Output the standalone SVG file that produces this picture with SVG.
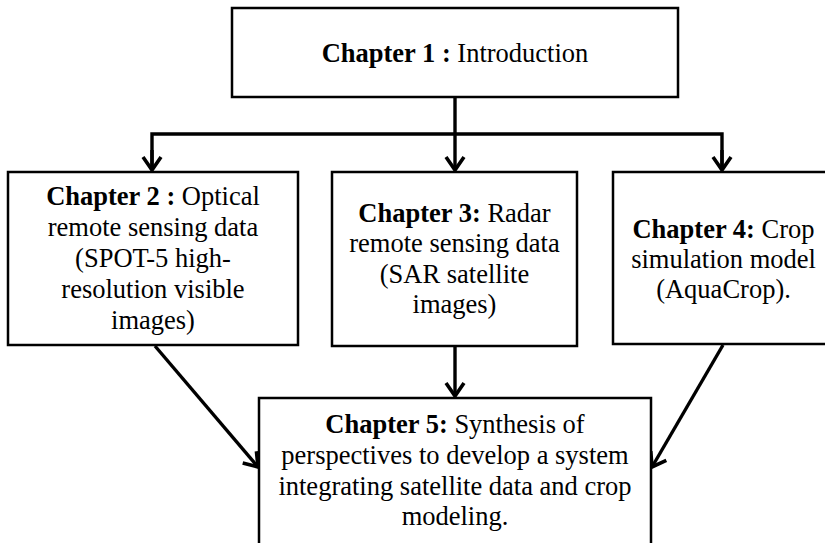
<svg xmlns="http://www.w3.org/2000/svg" width="825" height="543" viewBox="0 0 825 543">
<style>
.box{fill:#fff;stroke:#000;stroke-width:2.5}
.t{font-family:"Liberation Serif","Times New Roman",serif;font-size:26.5px;fill:#000;text-anchor:middle}
.b{font-weight:bold}
.c{fill:none;stroke:#000;stroke-width:3.4}
</style>
<defs>
<marker id="ah" markerUnits="userSpaceOnUse" markerWidth="20" markerHeight="24" viewBox="-15 -12 17 24" refX="0" refY="0" orient="auto">
<path d="M-13,-9 L0,0 L-13,9" fill="none" stroke="#000" stroke-width="3.6"/>
</marker>
</defs>
<rect width="825" height="543" fill="#fff"/>
<g id="connectors">
<line class="c" x1="455" y1="97" x2="455" y2="170" marker-end="url(#ah)"/>
<polyline class="c" points="152,170 152,134 722,134 722,170"/>
<line class="c" x1="152" y1="150" x2="152" y2="170" marker-end="url(#ah)"/>
<line class="c" x1="722" y1="150" x2="722" y2="170" marker-end="url(#ah)"/>
<line class="c" x1="455" y1="346" x2="455" y2="396" marker-end="url(#ah)"/>
<line class="c" x1="155" y1="346" x2="258" y2="467" marker-end="url(#ah)"/>
<line class="c" x1="723" y1="345" x2="652" y2="467" marker-end="url(#ah)"/>
</g>
<g id="ch1">
<rect class="box" x="232" y="8" width="446" height="89"/>
<text class="t" x="455" y="62"><tspan class="b">Chapter 1 :</tspan> Introduction</text>
</g>
<g id="ch2">
<rect class="box" x="8" y="172" width="290" height="173"/>
<text class="t" x="153" y="205"><tspan class="b">Chapter 2 :</tspan> Optical</text>
<text class="t" x="153" y="236">remote sensing data</text>
<text class="t" x="153" y="267">(SPOT-5 high-</text>
<text class="t" x="153" y="298">resolution visible</text>
<text class="t" x="153" y="329">images)</text>
</g>
<g id="ch3">
<rect class="box" x="332" y="172" width="245" height="174"/>
<text class="t" x="454.5" y="222"><tspan class="b">Chapter 3:</tspan> Radar</text>
<text class="t" x="454.5" y="252">remote sensing data</text>
<text class="t" x="454.5" y="283">(SAR satellite</text>
<text class="t" x="454.5" y="313">images)</text>
</g>
<g id="ch4">
<rect class="box" x="613" y="172" width="230" height="172"/>
<text class="t" x="723.5" y="238"><tspan class="b">Chapter 4:</tspan> Crop</text>
<text class="t" x="723.5" y="268">simulation model</text>
<text class="t" x="723.5" y="298">(AquaCrop).</text>
</g>
<g id="ch5">
<rect class="box" x="259" y="398" width="392" height="160"/>
<text class="t" x="455" y="433"><tspan class="b">Chapter 5:</tspan> Synthesis of</text>
<text class="t" x="455" y="464">perspectives to develop a system</text>
<text class="t" x="455" y="494.5">integrating satellite data and crop</text>
<text class="t" x="455" y="525">modeling.</text>
</g>
</svg>
